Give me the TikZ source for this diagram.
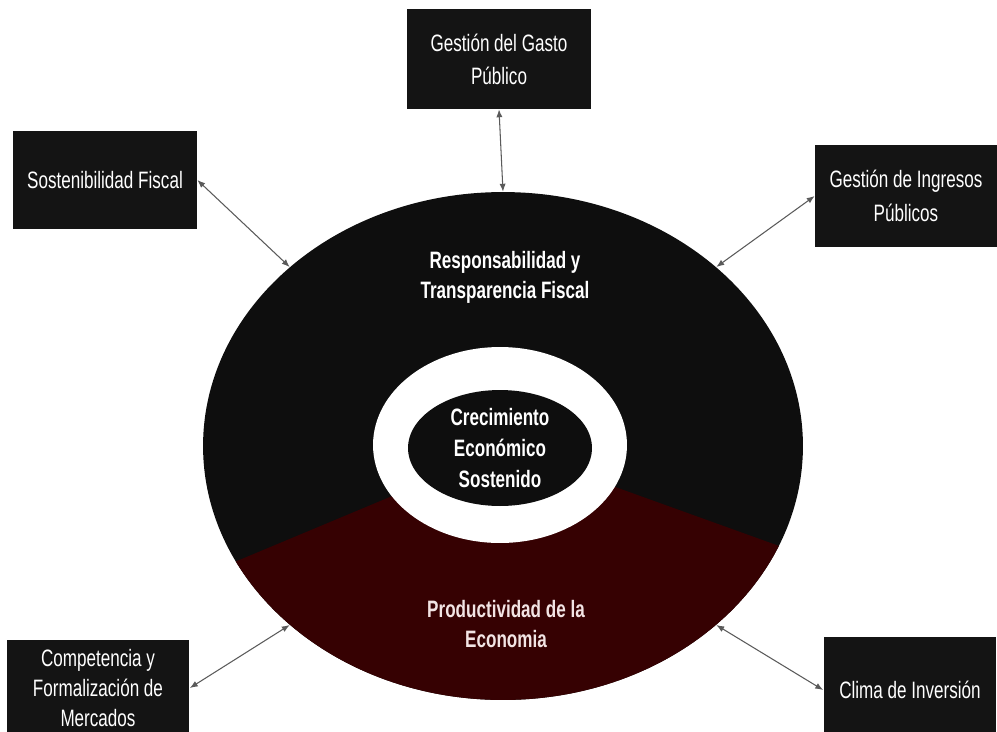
\documentclass[tikz,border=0pt]{standalone}
\usepackage{fontspec}
\setmainfont[FakeStretch=0.72]{Liberation Sans}
\usetikzlibrary{arrows.meta,shapes.geometric}
\definecolor{boxblack}{HTML}{141414}
\definecolor{ringblack}{HTML}{0E0E0E}
\definecolor{ringred}{HTML}{360102}
\definecolor{linkgray}{HTML}{5A5A5A}
\definecolor{palepink}{HTML}{F2E4E4}

\begin{document}
\begin{tikzpicture}[x=0.02cm, y=-0.02cm,
	every node/.style={font=\fontsize{13.5}{18}\selectfont},
	>={Latex[length=4.5pt,width=3.5pt]},
	box/.style={fill=boxblack, text=white, align=center, inner sep=0pt},
	link/.style={draw=linkgray, line width=0.6pt, <->}]
	\useasboundingbox (0,0) rectangle (997,731);
	% outer ring and the red sector
	\node[ellipse, fill=ringblack, minimum width=12cm, minimum height=10.16cm, inner sep=0pt] (ring) at (503,446) {};
	\begin{scope}
		\clip (ring.center) ellipse [x radius=6cm, y radius=5.08cm];
		\fill[ringred] (507,448) -- ++(202.7:9cm) arc[start angle=202.7, end angle=340.2, radius=9cm] -- cycle;
	\end{scope}
	\node[ellipse, fill=white, minimum width=5.08cm, minimum height=3.92cm, inner sep=0pt] (hole) at (500,445) {};
	\node[ellipse, fill=ringblack, text=white, align=center, minimum width=3.68cm, minimum height=2.32cm, inner sep=0pt, font=\fontsize{13.5}{17.6}\selectfont\bfseries] (core) at (500,448) {Crecimiento\\Económico\\Sostenido};
	\node[text=white, align=center, font=\fontsize{13.5}{17}\selectfont\bfseries] (resp) at (505,277) {Responsabilidad y\\Transparencia Fiscal};
	\node[text=palepink, align=center, font=\fontsize{13.5}{17.6}\selectfont\bfseries] (prod) at (506,624) {Productividad de la\\Economia};
	% outer boxes
	\node[box, minimum width=3.68cm, minimum height=2cm, font=\fontsize{13.5}{18.7}\selectfont] (gasto) at (499,59) {Gestión del Gasto\\Público};
	\node[box, minimum width=3.68cm, minimum height=1.98cm] (sost) at (105,180) {Sostenibilidad Fiscal};
	\node[box, minimum width=3.64cm, minimum height=2.04cm, font=\fontsize{13.5}{19}\selectfont] (ingr) at (906,196) {Gestión de Ingresos\\Públicos};
	\node[box, minimum width=3.66cm, minimum height=1.92cm, font=\fontsize{13.5}{17}\selectfont] (comp) at (98,688) {Competencia y\\Formalización de\\Mercados};
	\node[box, minimum width=3.46cm, minimum height=2.12cm] (clima) at (910,690) {Clima de Inversión};
	% links
	\draw[link] (gasto.south) -- (ring.north);
	\draw[link] (sost.east) -- (ring.140);
	\draw[link] (ingr.west) -- (ring.40);
	\draw[link] (comp.east) -- (ring.220);
	\draw[link] (clima.west) -- (ring.320);
\end{tikzpicture}
\end{document}
